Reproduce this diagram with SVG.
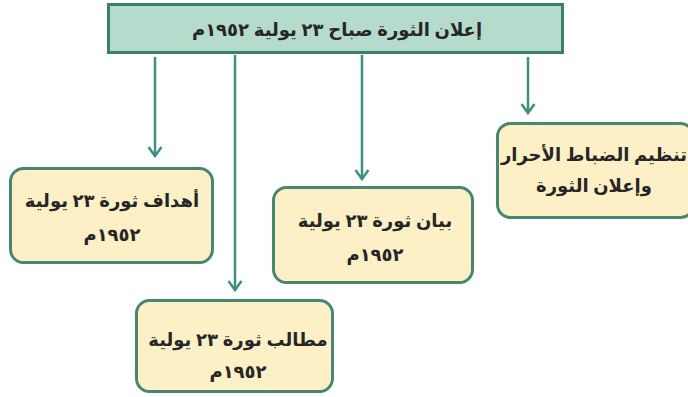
<svg xmlns="http://www.w3.org/2000/svg" width="688" height="397" viewBox="0 0 688 397">
<defs>
<style>
.top{fill:#b5dbcd;stroke:#3a7f68;stroke-width:3}
.box{fill:#fdf0c6;stroke:#478670;stroke-width:3}
.t{font-family:"Noto Sans","DejaVu Sans",sans-serif;font-weight:bold;font-size:18px;fill:#262626;text-anchor:middle;direction:rtl}
.c{stroke:#3f8f80;stroke-width:2.5;fill:none}
</style>
<marker id="ah" viewBox="0 0 12 16" refX="10" refY="8" markerWidth="12" markerHeight="16" markerUnits="userSpaceOnUse" orient="auto">
<path d="M1,1.5 L10,8 L1,14.5" fill="none" stroke="#3f8f80" stroke-width="2.5"/>
</marker>
</defs>
<rect width="688" height="397" fill="#ffffff"/>
<g id="connectors">
<line class="c" x1="155" y1="57" x2="155" y2="156" marker-end="url(#ah)"/>
<line class="c" x1="235" y1="55" x2="235" y2="290" marker-end="url(#ah)"/>
<line class="c" x1="362" y1="55" x2="362" y2="179" marker-end="url(#ah)"/>
<line class="c" x1="528" y1="57" x2="528" y2="113" marker-end="url(#ah)"/>
</g>
<g id="n-top">
<rect class="top" x="108.5" y="4.5" width="454" height="48"/>
<text class="t" x="337" y="36">إعلان الثورة صباح ٢٣ يولية ١٩٥٢م</text>
</g>
<g id="n-goals">
<rect class="box" x="10.5" y="168.5" width="202" height="94" rx="13"/>
<text class="t" x="112" y="207">أهداف ثورة ٢٣ يولية</text>
<text class="t" x="112" y="241">١٩٥٢م</text>
</g>
<g id="n-statement">
<rect class="box" x="273.5" y="187.5" width="199" height="95" rx="13"/>
<text class="t" x="375" y="227">بيان ثورة ٢٣ يولية</text>
<text class="t" x="375" y="261">١٩٥٢م</text>
</g>
<g id="n-officers">
<rect class="box" x="497.5" y="123.5" width="196" height="94" rx="13"/>
<text class="t" x="594" y="161">تنظيم الضباط الأحرار</text>
<text class="t" x="594" y="192">وإعلان الثورة</text>
</g>
<g id="n-demands">
<rect class="box" x="136.5" y="300.5" width="196" height="91" rx="13"/>
<text class="t" x="238" y="346">مطالب ثورة ٢٣ يولية</text>
<text class="t" x="238" y="378">١٩٥٢م</text>
</g>
</svg>
